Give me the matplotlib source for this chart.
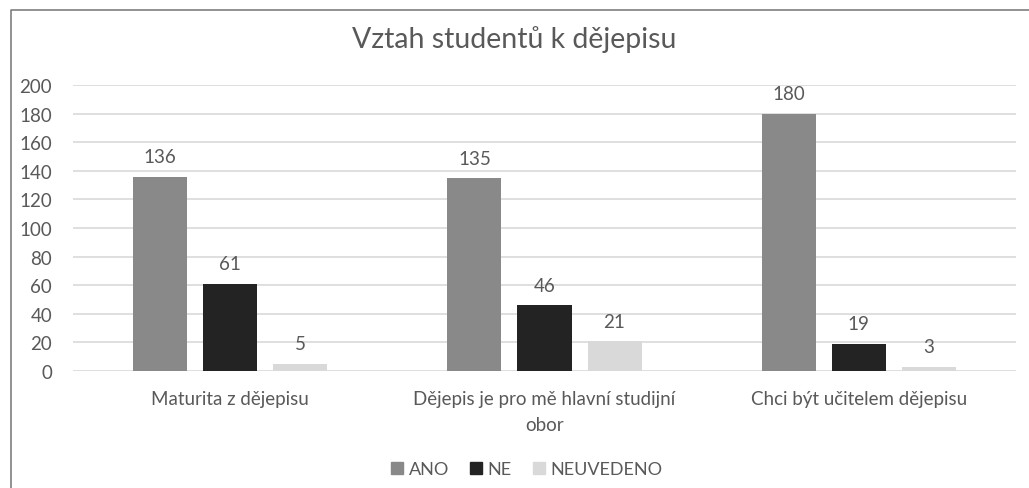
import matplotlib
matplotlib.use("Agg")
import matplotlib.pyplot as plt
import matplotlib.lines as mlines
import matplotlib.patches as mpatches
import numpy as np

plt.rcParams['font.family'] = ['Lato', 'DejaVu Sans']

TITLE = 'Vztah studentů k dějepisu'
CATEGORIES = ['Maturita z dějepisu', 'Dějepis je pro mě hlavní studijní\nobor', 'Chci být učitelem dějepisu']
SERIES = ['ANO', 'NE', 'NEUVEDENO']
VALUES = {
    'ANO':       [136, 135, 180],
    'NE':        [61, 46, 19],
    'NEUVEDENO': [5, 21, 3],
}
COLORS = {'ANO': '#898989', 'NE': '#232323', 'NEUVEDENO': '#d9d9d9'}
YTICKS = [0, 20, 40, 60, 80, 100, 120, 140, 160, 180, 200]

TEXT = '#595959'
FS = 13.5

fig = plt.figure(figsize=(10.29, 4.89), dpi=100)
ax = fig.add_axes([73 / 1029, 1 - 372 / 489, (1016 - 73) / 1029, (372 - 86) / 489])

x = np.arange(len(CATEGORIES))
width = 54 / 314.3
step = 70 / 314.3
for i, s in enumerate(SERIES):
    pos = x + (i - 1) * step
    ax.bar(pos, VALUES[s], width=width, color=COLORS[s], zorder=3, label=s)
    for xp, v in zip(pos, VALUES[s]):
        ax.text(xp, v + 8, str(v), ha='center', va='bottom', fontsize=FS, color=TEXT)

ax.set_xlim(-0.5, len(CATEGORIES) - 0.5)
ax.set_ylim(0, 200)
ax.set_yticks(YTICKS)
ax.set_yticklabels([str(t) for t in YTICKS], fontsize=FS, color=TEXT)
ax.set_xticks(x)
ax.set_xticklabels(CATEGORIES, fontsize=FS, color=TEXT, linespacing=1.6)
ax.tick_params(axis='x', length=0, pad=14)
ax.tick_params(axis='y', length=0, pad=15)
ax.grid(axis='y', color='#d9d9d9', linewidth=1.2, zorder=0)
for sp in ax.spines.values():
    sp.set_visible(False)

fig.text(0.5, 1 - 40 / 489, TITLE, ha='center', va='center', fontsize=20.5, color=TEXT)

handles = [mpatches.Patch(color=COLORS[s], label=s) for s in SERIES]
fig.legend(handles=handles, loc='center', bbox_to_anchor=(527 / 1029, 1 - 470 / 489), ncol=3,
           frameon=False, fontsize=13, labelcolor=TEXT, handlelength=0.65, handleheight=0.65,
           handletextpad=0.3, columnspacing=1.2)

# chart frame (only left and top edges are visible in the crop)
fig.add_artist(mlines.Line2D([11 / 1029, 11 / 1029, 1.0], [0.0, 1 - 11 / 489, 1 - 11 / 489],
                             transform=fig.transFigure, color='#7f7f7f', linewidth=1.2))

fig.savefig('out.png', dpi=100, facecolor='white')
